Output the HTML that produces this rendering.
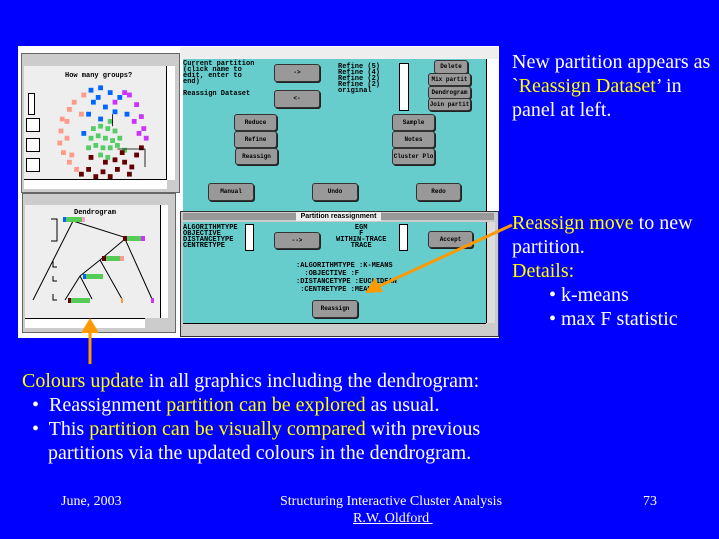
<!DOCTYPE html>
<html><head><meta charset="utf-8"><style>
*{margin:0;padding:0}
body{width:719px;height:539px;background:#0000ff;position:relative;overflow:hidden;font-family:"Liberation Serif",serif;color:#fff}
.a{position:absolute}
.t{position:absolute;font-size:20px;line-height:24px;white-space:nowrap}
.y{color:#ffff00}
.btn{position:absolute;background:#999;border:1px solid #333;border-radius:3px;box-shadow:1px 1px 0 #222;font:bold 6px "Liberation Mono",monospace;color:#000;text-align:center}
.mono{position:absolute;font:bold 7px/6px "Liberation Mono",monospace;color:#000;white-space:pre}
.foot{position:absolute;font-size:14px;white-space:nowrap}
</style></head><body>
<div class="a" style="left:18px;top:46px;width:481px;height:292px;background:#fff"></div>
<div class="a" style="left:21px;top:53px;width:157px;height:138px;background:#ccc;border:1px solid #666"></div>
<div class="a" style="left:24px;top:66px;width:150px;height:114px;background:#eee"></div>
<div class="a" style="left:166px;top:66px;width:8px;height:114px;background:#fff;border-left:1px solid #000"></div>
<div class="a" style="left:24px;top:179px;width:143px;height:9px;background:#fff;border-top:1px solid #000"></div>
<div class="mono" style="left:65px;top:73px">How many groups?</div>
<div class="a" style="left:28px;top:93px;width:5px;height:20px;border:1px solid #000;background:#fff"></div>
<div class="a" style="left:26px;top:118px;width:12px;height:12px;border:1px solid #000;background:#fff"></div>
<div class="a" style="left:26px;top:138px;width:12px;height:12px;border:1px solid #000;background:#fff"></div>
<div class="a" style="left:26px;top:158px;width:12px;height:12px;border:1px solid #000;background:#fff"></div>
<svg class="a" style="left:55px;top:83px" width="96" height="96" viewBox="0 0 80 80">
<g fill="#ff9988"><rect x="10" y="20" width="4" height="4"/><rect x="4" y="28" width="4" height="4"/><rect x="3" y="38" width="4" height="4"/><rect x="2" y="48" width="4" height="4"/><rect x="5" y="56" width="4" height="4"/><rect x="10" y="64" width="4" height="4"/><rect x="16" y="70" width="4" height="4"/><rect x="14" y="14" width="4" height="4"/><rect x="22" y="8" width="4" height="4"/><rect x="8" y="30" width="4" height="4"/><rect x="8" y="44" width="4" height="4"/><rect x="12" y="58" width="4" height="4"/><rect x="20" y="24" width="4" height="4"/></g>
<g fill="#0066ff"><rect x="28" y="4" width="4" height="4"/><rect x="36" y="2" width="4" height="4"/><rect x="44" y="6" width="4" height="4"/><rect x="52" y="10" width="4" height="4"/><rect x="30" y="14" width="4" height="4"/><rect x="40" y="18" width="4" height="4"/><rect x="48" y="22" width="4" height="4"/><rect x="26" y="24" width="4" height="4"/><rect x="36" y="28" width="4" height="4"/><rect x="58" y="24" width="4" height="4"/><rect x="34" y="10" width="4" height="4"/><rect x="22" y="40" width="4" height="4"/></g>
<g fill="#cc33ff"><rect x="60" y="8" width="4" height="4"/><rect x="66" y="16" width="4" height="4"/><rect x="70" y="26" width="4" height="4"/><rect x="72" y="36" width="4" height="4"/><rect x="64" y="30" width="4" height="4"/><rect x="56" y="6" width="4" height="4"/><rect x="74" y="44" width="4" height="4"/><rect x="48" y="14" width="4" height="4"/><rect x="68" y="40" width="4" height="4"/></g>
<g fill="#55cc66"><rect x="30" y="36" width="4" height="4"/><rect x="36" y="34" width="4" height="4"/><rect x="42" y="36" width="4" height="4"/><rect x="48" y="38" width="4" height="4"/><rect x="28" y="44" width="4" height="4"/><rect x="34" y="42" width="4" height="4"/><rect x="40" y="44" width="4" height="4"/><rect x="46" y="46" width="4" height="4"/><rect x="52" y="44" width="4" height="4"/><rect x="32" y="50" width="4" height="4"/><rect x="38" y="52" width="4" height="4"/><rect x="44" y="52" width="4" height="4"/><rect x="50" y="50" width="4" height="4"/><rect x="36" y="58" width="4" height="4"/><rect x="42" y="60" width="4" height="4"/><rect x="56" y="54" width="4" height="4"/><rect x="26" y="52" width="4" height="4"/><rect x="44" y="30" width="4" height="4"/></g>
<g fill="#660000"><rect x="20" y="74" width="4" height="4"/><rect x="26" y="70" width="4" height="4"/><rect x="32" y="76" width="4" height="4"/><rect x="38" y="72" width="4" height="4"/><rect x="44" y="76" width="4" height="4"/><rect x="50" y="70" width="4" height="4"/><rect x="56" y="64" width="4" height="4"/><rect x="62" y="68" width="4" height="4"/><rect x="66" y="58" width="4" height="4"/><rect x="70" y="52" width="4" height="4"/><rect x="60" y="74" width="4" height="4"/><rect x="28" y="60" width="4" height="4"/><rect x="40" y="64" width="4" height="4"/><rect x="48" y="62" width="4" height="4"/><rect x="54" y="56" width="4" height="4"/></g>
<path d="M48 26V36M52 55H75V70" stroke="#000" fill="none" stroke-width="0.7"/>
</svg>
<div class="a" style="left:22px;top:193px;width:152px;height:138px;background:#ccc;border:1px solid #666"></div>
<div class="a" style="left:25px;top:205px;width:143px;height:113px;background:#eee"></div>
<div class="a" style="left:160px;top:205px;width:7px;height:113px;background:#fff;border-left:1px solid #000"></div>
<div class="a" style="left:25px;top:318px;width:120px;height:9px;background:#fff;border-top:1px solid #000"></div>
<div class="mono" style="left:74px;top:210px">Dendrogram</div>
<svg class="a" style="left:25px;top:205px" width="140" height="112">
<g stroke="#000" stroke-width="1" fill="none"><path d="M48 16L8 95M48 16L105 34M100 34L75 55M100 34L127 94M75 55L55 71M75 55L97 94M55 71L40 95M55 71L67 94M26 14H32V36H26M28 56V62H32M28 71V76H32M28 89V95H32"/></g>
<rect x="38" y="12" width="22" height="5" fill="#5c5"/><rect x="38" y="12" width="3" height="5" fill="#06f"/><rect x="57" y="12" width="3" height="5" fill="#f9c"/>
<rect x="98" y="31" width="22" height="5" fill="#5c5"/><rect x="98" y="31" width="4" height="5" fill="#600"/><rect x="116" y="31" width="4" height="5" fill="#c3f"/>
<rect x="77" y="51" width="22" height="5" fill="#5c5"/><rect x="77" y="51" width="4" height="5" fill="#600"/><rect x="95" y="51" width="4" height="5" fill="#f99"/>
<rect x="58" y="69" width="20" height="5" fill="#5c5"/><rect x="58" y="69" width="3" height="5" fill="#06f"/>
<rect x="43" y="93" width="22" height="5" fill="#5c5"/><rect x="43" y="93" width="3" height="5" fill="#600"/>
<rect x="96" y="93" width="2" height="5" fill="#f93"/><rect x="126" y="93" width="3" height="5" fill="#c3f"/>
</svg>
<div class="a" style="left:180px;top:47px;width:318px;height:12px;background:#eee"></div>
<div class="a" style="left:183px;top:59px;width:312px;height:153px;background:#66cccc"></div>
<div class="a" style="left:486px;top:59px;width:9px;height:153px;background:#fff;border-left:1px solid #000"></div>
<div class="mono" style="left:183px;top:61px">Current partition
(click name to
edit, enter to
end)

Reassign Dataset</div>
<div class="mono" style="left:338px;top:64px">Refine (5)
Refine (4)
Refine (2)
Refine (2)
original</div>
<div class="a" style="left:399px;top:63px;width:8px;height:46px;background:#fff;border:1px solid #000"></div>
<div class="btn" style="left:274px;top:64px;width:44px;height:16px;line-height:16px">-&gt;</div>
<div class="btn" style="left:274px;top:90px;width:44px;height:16px;line-height:16px">&lt;-</div>
<div class="btn" style="left:434px;top:60px;width:32px;height:12px;line-height:12px">Delete</div>
<div class="btn" style="left:428px;top:73px;width:41px;height:11px;line-height:11px">Mix partit</div>
<div class="btn" style="left:428px;top:86px;width:41px;height:11px;line-height:11px">Dendrogram</div>
<div class="btn" style="left:428px;top:98px;width:41px;height:11px;line-height:11px">Join partit</div>
<div class="btn" style="left:234px;top:114px;width:41px;height:15px;line-height:15px">Reduce</div>
<div class="btn" style="left:234px;top:131px;width:41px;height:15px;line-height:15px">Refine</div>
<div class="btn" style="left:235px;top:148px;width:41px;height:15px;line-height:15px">Reassign</div>
<div class="btn" style="left:392px;top:114px;width:41px;height:15px;line-height:15px">Sample</div>
<div class="btn" style="left:392px;top:131px;width:41px;height:15px;line-height:15px">Notes</div>
<div class="btn" style="left:392px;top:148px;width:41px;height:15px;line-height:15px">Cluster Plo</div>
<div class="btn" style="left:208px;top:183px;width:44px;height:16px;line-height:16px">Manual</div>
<div class="btn" style="left:312px;top:183px;width:44px;height:16px;line-height:16px">Undo</div>
<div class="btn" style="left:416px;top:183px;width:43px;height:16px;line-height:16px">Redo</div>
<div class="a" style="left:180px;top:211px;width:317px;height:124px;background:#ccc;border:1px solid #333"></div>
<div class="a" style="left:183px;top:213px;width:311px;height:7px;background:#999"></div>
<div class="a" style="left:296px;top:212px;width:85px;height:9px;background:#eee;font:bold 7px/9px 'Liberation Sans',sans-serif;color:#000;text-align:center">Partition reassignment</div>
<div class="a" style="left:183px;top:222px;width:303px;height:101px;background:#66cccc"></div>
<div class="a" style="left:486px;top:222px;width:8px;height:101px;background:#ddd;border-left:1px solid #000"></div>
<div class="a" style="left:183px;top:323px;width:303px;height:9px;background:#ccc;border-top:1px solid #000"></div>
<div class="mono" style="left:183px;top:225px">ALGORITHMTYPE
OBJECTIVE
DISTANCETYPE
CENTRETYPE</div>
<div class="mono" style="left:336px;top:225px;text-align:center">EGM
F
WITHIN-TRACE
TRACE</div>
<div class="a" style="left:245px;top:224px;width:7px;height:25px;background:#fff;border:1px solid #000"></div>
<div class="a" style="left:399px;top:224px;width:7px;height:25px;background:#fff;border:1px solid #000"></div>
<div class="btn" style="left:274px;top:232px;width:44px;height:15px;line-height:15px">--&gt;</div>
<div class="btn" style="left:428px;top:231px;width:43px;height:15px;line-height:15px">Accept</div>
<div class="mono" style="left:296px;top:262px;line-height:8px">:ALGORITHMTYPE :K-MEANS
  :OBJECTIVE :F
:DISTANCETYPE :EUCLIDEAN
 :CENTRETYPE :MEAN</div>
<div class="btn" style="left:312px;top:300px;width:44px;height:16px;line-height:16px">Reassign</div>
<svg class="a" style="left:0;top:0" width="719" height="539">
<line x1="512" y1="225" x2="375" y2="288" stroke="#ff9900" stroke-width="3"/>
<polygon points="365,293 375,278 383,292" fill="#ff9900"/>
<line x1="90" y1="364" x2="90" y2="330" stroke="#ff9900" stroke-width="3"/>
<polygon points="90,318 81,333 99,333" fill="#ff9900"/>
</svg>
<div class="t" style="left:512px;top:50px">New partition appears as</div>
<div class="t" style="left:512px;top:74px">`<span class="y">Reassign Dataset</span>’ in</div>
<div class="t" style="left:512px;top:98px">panel at left.</div>
<div class="t" style="left:512px;top:211px"><span class="y">Reassign move</span> to new</div>
<div class="t" style="left:512px;top:235px">partition.</div>
<div class="t y" style="left:512px;top:259px">Details:</div>
<div class="t" style="left:549px;top:283px">• k-means</div>
<div class="t" style="left:549px;top:307px">• max F statistic</div>
<div class="t" style="left:22px;top:369px"><span class="y">Colours update</span> in all graphics including the dendrogram:</div>
<div class="t" style="left:32px;top:393px">•&nbsp; Reassignment <span class="y">partition can be explored</span> as usual.</div>
<div class="t" style="left:32px;top:417px">•&nbsp; This <span class="y">partition can be visually compared</span> with previous</div>
<div class="t" style="left:48px;top:441px">partitions via the updated colours in the dendrogram.</div>
<div class="foot" style="left:61px;top:494px">June, 2003</div>
<div class="foot" style="left:280px;top:494px">Structuring Interactive Cluster Analysis</div>
<div class="foot" style="left:353px;top:511px;text-decoration:underline">R.W. Oldford&nbsp;</div>
<div class="foot" style="left:643px;top:494px">73</div>
</body></html>
